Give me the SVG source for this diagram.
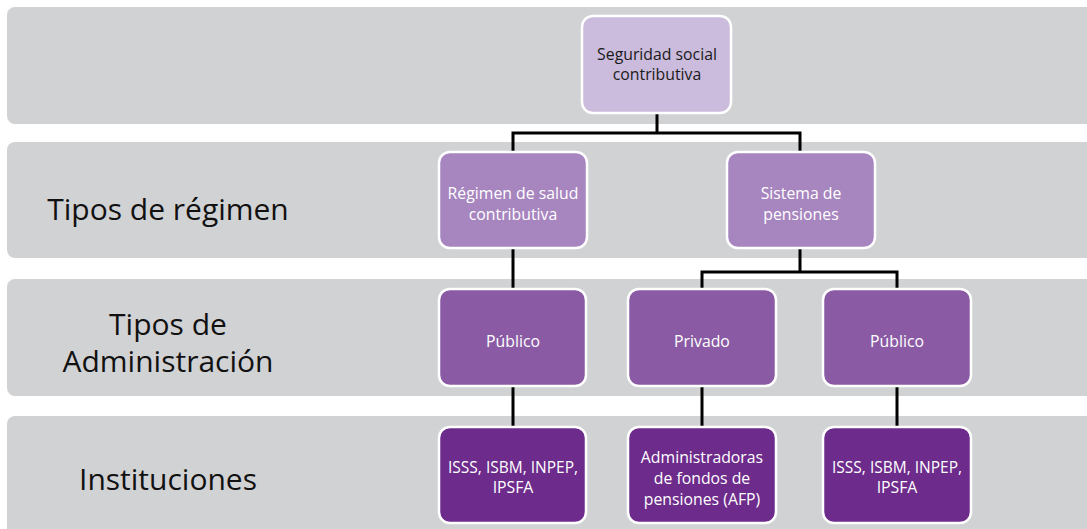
<svg xmlns="http://www.w3.org/2000/svg" width="1087" height="529" viewBox="0 0 1087 529">
<style>
.band{fill:#d1d2d4}
.node rect{stroke:#ffffff;stroke-width:2.5}
.l1 rect{fill:#cbbbdc}
.l2 rect{fill:#a785bf}
.l3 rect{fill:#8a5ba4}
.l4 rect{fill:#6d2b8b}
.nt{font-family:"Open Sans","Noto Sans","Liberation Sans",sans-serif;font-size:15.8px;text-anchor:middle;fill:#ffffff}
.l1 .nt{fill:#1a1a1a}
.lab{font-family:"Open Sans","Noto Sans","Liberation Sans",sans-serif;font-size:30px;text-anchor:middle;fill:#111111}
.conn{fill:none;stroke:#000000;stroke-width:3}
</style>
<g id="bands">
<rect class="band" x="7" y="7" width="1090" height="117" rx="8"/>
<rect class="band" x="7" y="142" width="1090" height="116" rx="8"/>
<rect class="band" x="7" y="279" width="1090" height="117" rx="8"/>
<rect class="band" x="7" y="416" width="1090" height="124" rx="8"/>
</g>
<g id="labels">
<text class="lab" x="168" y="220">Tipos de régimen</text>
<text class="lab" x="168" y="335"><tspan x="168">Tipos de</tspan><tspan x="168" dy="37">Administración</tspan></text>
<text class="lab" x="168" y="490">Instituciones</text>
</g>
<g id="connectors">
<path class="conn" d="M657 113 V133 M513 152 V133 H800 V152"/>
<path class="conn" d="M513 248 V289"/>
<path class="conn" d="M800 248 V272 M702 289 V272 H897 V289"/>
<path class="conn" d="M513 386 V427"/>
<path class="conn" d="M702 386 V427"/>
<path class="conn" d="M897 386 V427"/>
</g>
<g id="n-seguridad" class="node l1">
<rect x="582" y="16" width="149" height="97" rx="11"/>
<text class="nt" x="657" y="60"><tspan x="657">Seguridad social</tspan><tspan x="657" dy="20">contributiva</tspan></text>
</g>
<g id="n-regimen-salud" class="node l2">
<rect x="439" y="152" width="148" height="96" rx="11"/>
<text class="nt" x="513" y="199"><tspan x="513">Régimen de salud</tspan><tspan x="513" dy="21">contributiva</tspan></text>
</g>
<g id="n-sistema-pensiones" class="node l2">
<rect x="727" y="152" width="148" height="96" rx="11"/>
<text class="nt" x="801" y="199"><tspan x="801">Sistema de</tspan><tspan x="801" dy="21">pensiones</tspan></text>
</g>
<g id="n-publico-1" class="node l3">
<rect x="439" y="289" width="147" height="97" rx="11"/>
<text class="nt" x="513" y="347">Público</text>
</g>
<g id="n-privado" class="node l3">
<rect x="628" y="289" width="148" height="97" rx="11"/>
<text class="nt" x="702" y="347">Privado</text>
</g>
<g id="n-publico-2" class="node l3">
<rect x="823" y="289" width="148" height="97" rx="11"/>
<text class="nt" x="897" y="347">Público</text>
</g>
<g id="n-inst-1" class="node l4">
<rect x="439" y="427" width="147" height="96" rx="11"/>
<text class="nt" x="513" y="473"><tspan x="513" textLength="130" lengthAdjust="spacingAndGlyphs">ISSS, ISBM, INPEP,</tspan><tspan x="513" dy="20">IPSFA</tspan></text>
</g>
<g id="n-afp" class="node l4">
<rect x="628" y="427" width="148" height="96" rx="11"/>
<text class="nt" x="702" y="463"><tspan x="702">Administradoras</tspan><tspan x="702" dy="21">de fondos de</tspan><tspan x="702" dy="21">pensiones (AFP)</tspan></text>
</g>
<g id="n-inst-2" class="node l4">
<rect x="823" y="427" width="148" height="96" rx="11"/>
<text class="nt" x="897" y="473"><tspan x="897" textLength="130" lengthAdjust="spacingAndGlyphs">ISSS, ISBM, INPEP,</tspan><tspan x="897" dy="20">IPSFA</tspan></text>
</g>
</svg>
